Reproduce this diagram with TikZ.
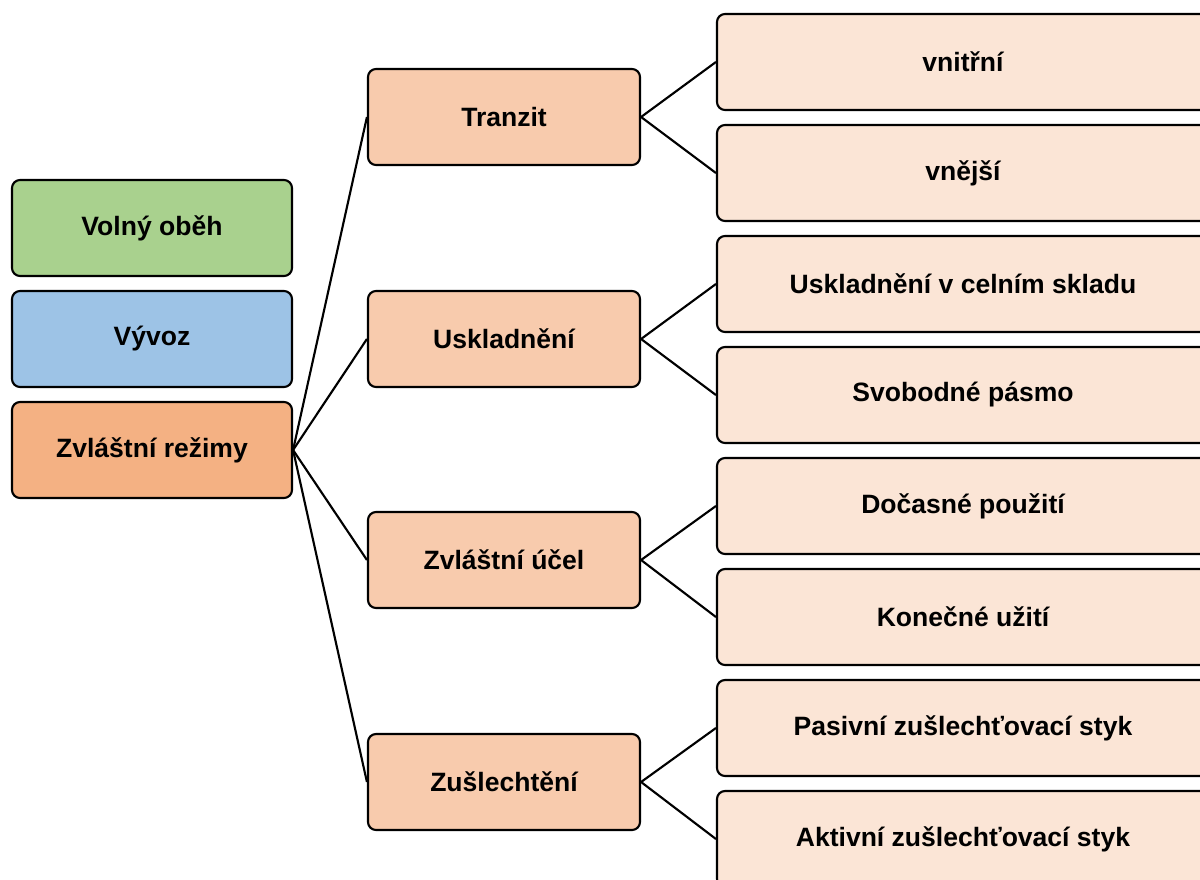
\documentclass[tikz,border=0pt]{standalone}
\usepackage{fontspec}
\setmainfont{Liberation Sans}
\begin{document}
\begin{tikzpicture}[x=0.75pt,y=-0.75pt,
  box/.style={draw=black, line width=1.6pt, rounded corners=6pt, minimum height=72pt, inner sep=0pt, font=\bfseries\fontsize{19.9}{23}\selectfont, text=black},
  lbox/.style={box, minimum width=210pt},
  mbox/.style={box, minimum width=204pt, fill=midc},
  rbox/.style={box, minimum width=369pt, fill=rightc},
  conn/.style={draw=black, line width=1.6pt}]
\definecolor{greenc}{HTML}{A9D18E}
\definecolor{bluec}{HTML}{9DC3E6}
\definecolor{orangec}{HTML}{F4B183}
\definecolor{midc}{HTML}{F8CBAD}
\definecolor{rightc}{HTML}{FBE5D6}
\useasboundingbox (0,0) rectangle (1200,879);
\clip (0,0) rectangle (1200,879);
% left column
\node[lbox, fill=greenc] (vo) at (152,228) {Volný oběh};
\node[lbox, fill=bluec] (vy) at (152,339) {Vývoz};
\node[lbox, fill=orangec] (zr) at (152,450) {Zvláštní režimy};
% middle column
\node[mbox] (tr) at (504,117) {Tranzit};
\node[mbox] (us) at (504,339) {Uskladnění};
\node[mbox] (zu) at (504,560) {Zvláštní účel};
\node[mbox] (zs) at (504,782) {Zušlechtění};
% right column
\node[rbox] (r1) at (963,62) {vnitřní};
\node[rbox] (r2) at (963,173) {vnější};
\node[rbox] (r3) at (963,284) {Uskladnění v celním skladu};
\node[rbox] (r4) at (963,395) {Svobodné pásmo};
\node[rbox] (r5) at (963,506) {Dočasné použití};
\node[rbox] (r6) at (963,617) {Konečné užití};
\node[rbox] (r7) at (963,728) {Pasivní zušlechťovací styk};
\node[rbox] (r8) at (963,839) {Aktivní zušlechťovací styk};
% connectors
\foreach \m in {tr,us,zu,zs} \draw[conn] (zr.east) -- (\m.west);
\draw[conn] (tr.east) -- (r1.west);
\draw[conn] (tr.east) -- (r2.west);
\draw[conn] (us.east) -- (r3.west);
\draw[conn] (us.east) -- (r4.west);
\draw[conn] (zu.east) -- (r5.west);
\draw[conn] (zu.east) -- (r6.west);
\draw[conn] (zs.east) -- (r7.west);
\draw[conn] (zs.east) -- (r8.west);
\end{tikzpicture}
\end{document}
